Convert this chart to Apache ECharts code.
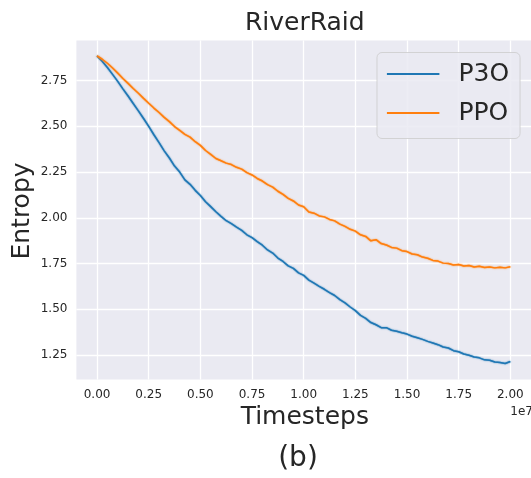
<!DOCTYPE html>
<html>
<head>
<meta charset="utf-8">
<script src="https://cdn.jsdelivr.net/npm/echarts@6/dist/echarts.min.js"></script>
<style>
  html, body { margin: 0; padding: 0; background: #ffffff; }
  #chart { width: 531px; height: 478px; }
</style>
</head>
<body>
<div id="chart"></div>
<script>
// Timesteps, in units of 1e7
const timesteps = [
  0.000, 0.025, 0.050, 0.075, 0.100, 0.125, 0.150, 0.175, 0.200, 0.225,
  0.250, 0.275, 0.300, 0.325, 0.350, 0.375, 0.400, 0.425, 0.450, 0.475,
  0.500, 0.525, 0.550, 0.575, 0.600, 0.625, 0.650, 0.675, 0.700, 0.725,
  0.750, 0.775, 0.800, 0.825, 0.850, 0.875, 0.900, 0.925, 0.950, 0.975,
  1.000, 1.025, 1.050, 1.075, 1.100, 1.125, 1.150, 1.175, 1.200, 1.225,
  1.250, 1.275, 1.300, 1.325, 1.350, 1.375, 1.400, 1.425, 1.450, 1.475,
  1.500, 1.525, 1.550, 1.575, 1.600, 1.625, 1.650, 1.675, 1.700, 1.725,
  1.750, 1.775, 1.800, 1.825, 1.850, 1.875, 1.900, 1.925, 1.950, 1.975,
  2.000
];

// Policy entropy, P3O
const p3oEntropy = [
  2.885, 2.856, 2.822, 2.784, 2.746, 2.705, 2.666, 2.625, 2.585, 2.543,
  2.500, 2.454, 2.411, 2.366, 2.327, 2.283, 2.250, 2.207, 2.183, 2.150,
  2.122, 2.088, 2.061, 2.033, 2.008, 1.984, 1.968, 1.949, 1.931, 1.907,
  1.891, 1.870, 1.850, 1.824, 1.807, 1.780, 1.761, 1.737, 1.723, 1.699,
  1.685, 1.659, 1.643, 1.625, 1.609, 1.591, 1.575, 1.552, 1.535, 1.512,
  1.492, 1.466, 1.450, 1.427, 1.415, 1.399, 1.399, 1.385, 1.379, 1.371,
  1.364, 1.352, 1.344, 1.335, 1.324, 1.315, 1.306, 1.293, 1.288, 1.273,
  1.267, 1.255, 1.248, 1.239, 1.234, 1.223, 1.221, 1.211, 1.209, 1.203,
  1.214
];

// Policy entropy, PPO
const ppoEntropy = [
  2.885, 2.867, 2.845, 2.819, 2.791, 2.762, 2.735, 2.707, 2.681, 2.653,
  2.626, 2.600, 2.576, 2.549, 2.526, 2.499, 2.478, 2.456, 2.441, 2.416,
  2.396, 2.368, 2.347, 2.324, 2.312, 2.299, 2.291, 2.276, 2.266, 2.247,
  2.234, 2.215, 2.201, 2.181, 2.168, 2.145, 2.128, 2.106, 2.092, 2.070,
  2.060, 2.032, 2.025, 2.010, 2.005, 1.991, 1.983, 1.965, 1.953, 1.937,
  1.927, 1.907, 1.898, 1.874, 1.880, 1.859, 1.851, 1.838, 1.834, 1.820,
  1.815, 1.802, 1.798, 1.785, 1.779, 1.767, 1.763, 1.752, 1.750, 1.742,
  1.744, 1.736, 1.739, 1.731, 1.735, 1.728, 1.731, 1.726, 1.730, 1.726,
  1.732
];

const xTicks = [0, 0.25, 0.5, 0.75, 1.0, 1.25, 1.5, 1.75, 2.0];
const yTicks = [1.25, 1.5, 1.75, 2.0, 2.25, 2.5, 2.75];

const seriesNames = ['P3O', 'PPO'];
const seriesColors = ['#1f77b4', '#ff7f0e'];

const FONT = 'DejaVu Sans, sans-serif';
const TEXT = '#262626';

const pairs = (ys) => timesteps.map((t, i) => [t, ys[i]]);

const chart = echarts.init(document.getElementById('chart'), null, { renderer: 'canvas' });

const makeSeries = (name, ys, color) => ({
  name: name,
  type: 'line',
  data: pairs(ys),
  showSymbol: false,
  symbol: 'none',
  smooth: false,
  color: color,
  lineStyle: {
    color: color,
    width: 1.5,
    shadowColor: color,
    shadowBlur: 1.5
  },
  emphasis: { disabled: true },
  z: 3
});

chart.setOption({
  animation: false,
  backgroundColor: '#ffffff',
  grid: {
    left: 76.4,
    top: 40.6,
    width: 456.8,
    height: 339,
    show: true,
    backgroundColor: '#eaeaf2',
    borderWidth: 0
  },
  xAxis: {
    type: 'value',
    min: -0.1,
    max: 2.1,
    axisLine: { show: false },
    axisTick: { show: false, customValues: xTicks },
    axisLabel: {
      customValues: xTicks,
      formatter: (v) => v.toFixed(2),
      color: TEXT,
      fontFamily: FONT,
      fontSize: 12,
      margin: 9
    },
    splitLine: { show: true, lineStyle: { color: '#ffffff', width: 1.3 } }
  },
  yAxis: {
    type: 'value',
    min: 1.115,
    max: 2.969,
    axisLine: { show: false },
    axisTick: { show: false, customValues: yTicks },
    axisLabel: {
      customValues: yTicks,
      formatter: (v) => v.toFixed(2),
      color: TEXT,
      fontFamily: FONT,
      fontSize: 12,
      margin: 9
    },
    splitLine: { show: true, lineStyle: { color: '#ffffff', width: 1.3 } }
  },
  legend: {
    data: seriesNames,
    orient: 'vertical',
    left: 377,
    top: 52.5,
    padding: [9, 11, 13, 9],
    itemGap: 14,
    itemWidth: 52.5,
    itemHeight: 25,
    backgroundColor: 'rgba(234,234,242,0.85)',
    borderColor: 'rgba(204,204,204,0.8)',
    borderWidth: 1,
    borderRadius: 5,
    itemStyle: { color: 'transparent', borderWidth: 0 },
    lineStyle: { width: 1.8, shadowBlur: 0 },
    textStyle: {
      color: TEXT,
      fontFamily: FONT,
      fontSize: 25,
      lineHeight: 25,
      padding: [0, 0, 0, 14]
    },
    selectedMode: false,
    z: 10
  },
  graphic: [
    {
      type: 'text', x: 304.8, y: 23, z: 10,
      style: { text: 'RiverRaid', font: '25px ' + FONT, fill: TEXT, textAlign: 'center', textVerticalAlign: 'middle' }
    },
    {
      type: 'text', x: 304.8, y: 417, z: 10,
      style: { text: 'Timesteps', font: '25px ' + FONT, fill: TEXT, textAlign: 'center', textVerticalAlign: 'middle' }
    },
    {
      type: 'text', x: 533, y: 411.5, z: 10,
      style: { text: '1e7', font: '12px ' + FONT, fill: TEXT, textAlign: 'right', textVerticalAlign: 'middle' }
    },
    {
      type: 'text', x: 22, y: 211, rotation: Math.PI / 2, z: 10,
      style: { text: 'Entropy', font: '25px ' + FONT, fill: TEXT, textAlign: 'center', textVerticalAlign: 'middle' }
    },
    {
      type: 'text', x: 298, y: 459, z: 10,
      style: { text: '(b)', font: '28px ' + FONT, fill: TEXT, textAlign: 'center', textVerticalAlign: 'middle' }
    }
  ],
  series: [
    makeSeries(seriesNames[0], p3oEntropy, seriesColors[0]),
    makeSeries(seriesNames[1], ppoEntropy, seriesColors[1])
  ]
});
</script>
</body>
</html>
